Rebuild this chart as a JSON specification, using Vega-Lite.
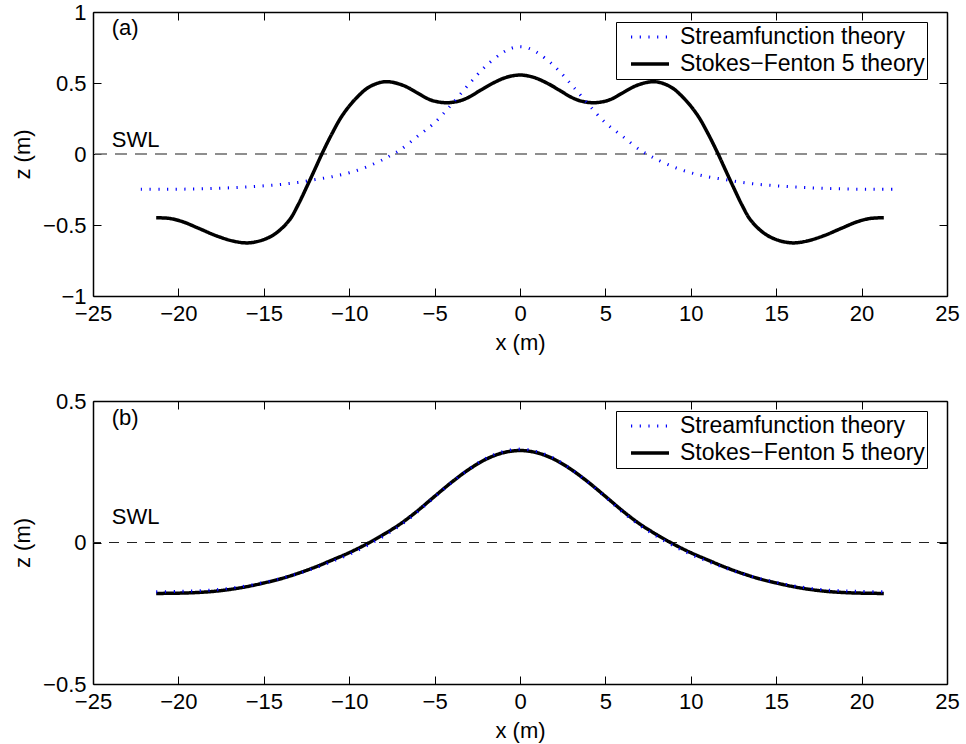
{
  "$schema": "https://vega.github.io/schema/vega-lite/v6.json",
  "padding": {"left": 11, "top": 1, "right": 5, "bottom": 5},
  "config": {
    "font": "Liberation Sans",
    "view": {"stroke": null},
    "axis": {"domainColor": "black", "domainWidth": 1.5, "tickColor": "black", "tickWidth": 1, "tickSize": -8, "labelPadding": 15, "labelFontSize": 22, "labelColor": "black", "labelFlush": false, "labelOverlap": false, "titleFontSize": 22, "titleFontWeight": "normal", "titleColor": "black", "grid": false},
    "axisX": {"titlePadding": 8},
    "axisY": {"titlePadding": 8},
    "legend": {"orient": "none", "legendX": 523, "legendY": 10, "strokeColor": "black", "fillColor": "white", "padding": 2, "symbolType": "stroke", "symbolSize": 1444, "symbolOffset": 11, "clipHeight": 26, "labelFontSize": 23, "labelLimit": 0, "labelOffset": 9, "rowPadding": 1, "labelColor": "black", "cornerRadius": 0, "strokeWidth": 1}
  },
  "datasets": {
    "one": [{}],
    "a_sf": [
      {"x": -21.3, "z": -0.449}, {"x": -20.5, "z": -0.454}, {"x": -19.75, "z": -0.477}, {"x": -18.8, "z": -0.524}, {"x": -17.8, "z": -0.575}, {"x": -16.8, "z": -0.613}, {"x": -15.95, "z": -0.626}, {"x": -15.1, "z": -0.607}, {"x": -14.3, "z": -0.559}, {"x": -13.5, "z": -0.465}, {"x": -13.0, "z": -0.36}, {"x": -12.5, "z": -0.235}, {"x": -12.0, "z": -0.105}, {"x": -11.6, "z": 0.0}, {"x": -11.0, "z": 0.145}, {"x": -10.4, "z": 0.272}, {"x": -9.6, "z": 0.392}, {"x": -8.8, "z": 0.474}, {"x": -7.9, "z": 0.509}, {"x": -6.9, "z": 0.486}, {"x": -6.0, "z": 0.43}, {"x": -5.5, "z": 0.395}, {"x": -5.0, "z": 0.372}, {"x": -4.3, "z": 0.361}, {"x": -3.6, "z": 0.372}, {"x": -3.0, "z": 0.4}, {"x": -2.3, "z": 0.45}, {"x": -1.6, "z": 0.498}, {"x": -0.8, "z": 0.54}, {"x": 0, "z": 0.556},
      {"x": 0.8, "z": 0.54}, {"x": 1.6, "z": 0.498}, {"x": 2.3, "z": 0.45}, {"x": 3.0, "z": 0.4}, {"x": 3.6, "z": 0.372}, {"x": 4.3, "z": 0.361}, {"x": 5.0, "z": 0.372}, {"x": 5.5, "z": 0.395}, {"x": 6.0, "z": 0.43}, {"x": 6.9, "z": 0.486}, {"x": 7.9, "z": 0.509}, {"x": 8.8, "z": 0.474}, {"x": 9.6, "z": 0.392}, {"x": 10.4, "z": 0.272}, {"x": 11.0, "z": 0.145}, {"x": 11.6, "z": 0.0}, {"x": 12.0, "z": -0.105}, {"x": 12.5, "z": -0.235}, {"x": 13.0, "z": -0.36}, {"x": 13.5, "z": -0.465}, {"x": 14.3, "z": -0.559}, {"x": 15.1, "z": -0.607}, {"x": 15.95, "z": -0.626}, {"x": 16.8, "z": -0.613}, {"x": 17.8, "z": -0.575}, {"x": 18.8, "z": -0.524}, {"x": 19.75, "z": -0.477}, {"x": 20.5, "z": -0.454}, {"x": 21.3, "z": -0.449}
    ],
    "a_st": [
      {"x": -22.2, "z": -0.249}, {"x": -21, "z": -0.249}, {"x": -20, "z": -0.248}, {"x": -19, "z": -0.246}, {"x": -18, "z": -0.243}, {"x": -17, "z": -0.238}, {"x": -16, "z": -0.232}, {"x": -15, "z": -0.224}, {"x": -14, "z": -0.214}, {"x": -13, "z": -0.2}, {"x": -12, "z": -0.18}, {"x": -11, "z": -0.16}, {"x": -10, "z": -0.132}, {"x": -9, "z": -0.092}, {"x": -8, "z": -0.038}, {"x": -7.5, "z": -0.005}, {"x": -7, "z": 0.03}, {"x": -6, "z": 0.125}, {"x": -5, "z": 0.22}, {"x": -4, "z": 0.35}, {"x": -3, "z": 0.49}, {"x": -2, "z": 0.62}, {"x": -1, "z": 0.715}, {"x": -0.5, "z": 0.745}, {"x": 0, "z": 0.756},
      {"x": 0.5, "z": 0.745}, {"x": 1, "z": 0.715}, {"x": 2, "z": 0.62}, {"x": 3, "z": 0.49}, {"x": 4, "z": 0.35}, {"x": 5, "z": 0.22}, {"x": 6, "z": 0.125}, {"x": 7, "z": 0.03}, {"x": 7.5, "z": -0.005}, {"x": 8, "z": -0.038}, {"x": 9, "z": -0.092}, {"x": 10, "z": -0.132}, {"x": 11, "z": -0.16}, {"x": 12, "z": -0.18}, {"x": 13, "z": -0.2}, {"x": 14, "z": -0.214}, {"x": 15, "z": -0.224}, {"x": 16, "z": -0.232}, {"x": 17, "z": -0.238}, {"x": 18, "z": -0.243}, {"x": 19, "z": -0.246}, {"x": 20, "z": -0.248}, {"x": 21, "z": -0.249}, {"x": 22.2, "z": -0.249}
    ],
    "b_sf": [
      {"x": -21.3, "z": -0.18}, {"x": -20, "z": -0.179}, {"x": -19, "z": -0.177}, {"x": -18, "z": -0.173}, {"x": -17, "z": -0.166}, {"x": -16, "z": -0.156}, {"x": -15, "z": -0.143}, {"x": -14, "z": -0.128}, {"x": -13, "z": -0.109}, {"x": -12, "z": -0.087}, {"x": -11, "z": -0.062}, {"x": -10, "z": -0.036}, {"x": -9, "z": -0.006}, {"x": -8, "z": 0.028}, {"x": -7, "z": 0.066}, {"x": -6, "z": 0.112}, {"x": -5, "z": 0.163}, {"x": -4, "z": 0.213}, {"x": -3, "z": 0.258}, {"x": -2, "z": 0.294}, {"x": -1, "z": 0.317}, {"x": 0, "z": 0.325},
      {"x": 1, "z": 0.317}, {"x": 2, "z": 0.294}, {"x": 3, "z": 0.258}, {"x": 4, "z": 0.213}, {"x": 5, "z": 0.163}, {"x": 6, "z": 0.112}, {"x": 7, "z": 0.066}, {"x": 8, "z": 0.028}, {"x": 9, "z": -0.006}, {"x": 10, "z": -0.036}, {"x": 11, "z": -0.062}, {"x": 12, "z": -0.087}, {"x": 13, "z": -0.109}, {"x": 14, "z": -0.128}, {"x": 15, "z": -0.143}, {"x": 16, "z": -0.156}, {"x": 17, "z": -0.166}, {"x": 18, "z": -0.173}, {"x": 19, "z": -0.177}, {"x": 20, "z": -0.179}, {"x": 21.3, "z": -0.18}
    ],
    "b_st": [
      {"x": -21.3, "z": -0.174}, {"x": -20, "z": -0.173}, {"x": -19, "z": -0.171}, {"x": -18, "z": -0.168}, {"x": -17, "z": -0.162}, {"x": -16, "z": -0.153}, {"x": -15, "z": -0.141}, {"x": -14, "z": -0.127}, {"x": -13, "z": -0.11}, {"x": -12, "z": -0.09}, {"x": -11, "z": -0.067}, {"x": -10, "z": -0.042}, {"x": -9, "z": -0.012}, {"x": -8, "z": 0.022}, {"x": -7, "z": 0.061}, {"x": -6, "z": 0.108}, {"x": -5, "z": 0.161}, {"x": -4, "z": 0.212}, {"x": -3, "z": 0.259}, {"x": -2, "z": 0.297}, {"x": -1, "z": 0.321}, {"x": 0, "z": 0.33},
      {"x": 1, "z": 0.321}, {"x": 2, "z": 0.297}, {"x": 3, "z": 0.259}, {"x": 4, "z": 0.212}, {"x": 5, "z": 0.161}, {"x": 6, "z": 0.108}, {"x": 7, "z": 0.061}, {"x": 8, "z": 0.022}, {"x": 9, "z": -0.012}, {"x": 10, "z": -0.042}, {"x": 11, "z": -0.067}, {"x": 12, "z": -0.09}, {"x": 13, "z": -0.11}, {"x": 14, "z": -0.127}, {"x": 15, "z": -0.141}, {"x": 16, "z": -0.153}, {"x": 17, "z": -0.162}, {"x": 18, "z": -0.168}, {"x": 19, "z": -0.171}, {"x": 20, "z": -0.173}, {"x": 21.3, "z": -0.174}
    ]
  },
  "spacing": 37,
  "resolve": {"scale": {"color": "independent", "strokeDash": "independent", "strokeWidth": "independent"}},
  "vconcat": [
    {
      "width": 854, "height": 284,
      "resolve": {"axis": {"x": "independent", "y": "independent"}},
      "layer": [
        {
          "data": {"name": "one"},
          "mark": {"type": "rule", "strokeDash": [12, 8], "color": "#6a6a6a", "strokeWidth": 1.5},
          "encoding": {"y": {"datum": 0, "type": "quantitative", "scale": {"domain": [-1, 1], "nice": false}, "axis": null}}
        },
        {
          "data": {"name": "a_sf"},
          "mark": {"type": "line", "interpolate": "catmull-rom"},
          "encoding": {
            "x": {"field": "x", "type": "quantitative", "scale": {"domain": [-25, 25], "nice": false}, "axis": {"orient": "bottom", "values": [-25, -20, -15, -10, -5, 0, 5, 10, 15, 20, 25], "title": "x (m)", "format": "~g"}},
            "y": {"field": "z", "type": "quantitative", "scale": {"domain": [-1, 1], "nice": false}, "axis": {"orient": "left", "values": [-1, -0.5, 0, 0.5, 1], "title": "z (m)", "format": "~g"}},
            "color": {"datum": "Stokes−Fenton 5 theory", "type": "nominal", "scale": {"domain": ["Streamfunction theory", "Stokes−Fenton 5 theory"], "range": ["#0000ff", "#000000"]}, "legend": {"title": null}},
            "strokeDash": {"datum": "Stokes−Fenton 5 theory", "type": "nominal", "scale": {"domain": ["Streamfunction theory", "Stokes−Fenton 5 theory"], "range": [[1.2, 7.5], [1, 0]]}, "legend": {"title": null}},
            "strokeWidth": {"datum": "Stokes−Fenton 5 theory", "type": "nominal", "scale": {"domain": ["Streamfunction theory", "Stokes−Fenton 5 theory"], "range": [3, 3.5]}, "legend": {"title": null}}
          }
        },
        {
          "data": {"name": "a_st"},
          "mark": {"type": "line", "interpolate": "catmull-rom"},
          "encoding": {
            "x": {"field": "x", "type": "quantitative", "scale": {"domain": [-25, 25], "nice": false}, "axis": {"orient": "top", "values": [-25, -20, -15, -10, -5, 0, 5, 10, 15, 20, 25], "labels": false, "title": null}},
            "y": {"field": "z", "type": "quantitative", "scale": {"domain": [-1, 1], "nice": false}, "axis": {"orient": "right", "values": [-1, -0.5, 0, 0.5, 1], "labels": false, "title": null}},
            "color": {"datum": "Streamfunction theory", "type": "nominal", "scale": {"domain": ["Streamfunction theory", "Stokes−Fenton 5 theory"], "range": ["#0000ff", "#000000"]}, "legend": {"title": null}},
            "strokeDash": {"datum": "Streamfunction theory", "type": "nominal", "scale": {"domain": ["Streamfunction theory", "Stokes−Fenton 5 theory"], "range": [[1.2, 7.5], [1, 0]]}, "legend": {"title": null}},
            "strokeWidth": {"datum": "Streamfunction theory", "type": "nominal", "scale": {"domain": ["Streamfunction theory", "Stokes−Fenton 5 theory"], "range": [3, 3.5]}, "legend": {"title": null}}
          }
        },
        {
          "data": {"name": "one"},
          "mark": {"type": "text", "align": "left", "baseline": "middle", "fontSize": 22, "color": "black"},
          "encoding": {"x": {"datum": -23.9, "type": "quantitative", "scale": {"domain": [-25, 25], "nice": false}, "axis": null}, "y": {"datum": 0.887, "type": "quantitative", "scale": {"domain": [-1, 1], "nice": false}, "axis": null}, "text": {"value": "(a)"}}
        },
        {
          "data": {"name": "one"},
          "mark": {"type": "text", "align": "left", "baseline": "middle", "fontSize": 22, "color": "black"},
          "encoding": {"x": {"datum": -23.9, "type": "quantitative", "scale": {"domain": [-25, 25], "nice": false}, "axis": null}, "y": {"datum": 0.1, "type": "quantitative", "scale": {"domain": [-1, 1], "nice": false}, "axis": null}, "text": {"value": "SWL"}}
        }
      ]
    },
    {
      "width": 854, "height": 283,
      "resolve": {"axis": {"x": "independent", "y": "independent"}},
      "layer": [
        {
          "data": {"name": "one"},
          "mark": {"type": "rule", "strokeDash": [10, 8], "color": "#222222", "strokeWidth": 1},
          "encoding": {"y": {"datum": 0, "type": "quantitative", "scale": {"domain": [-0.5, 0.5], "nice": false}, "axis": null}}
        },
        {
          "data": {"name": "b_sf"},
          "mark": {"type": "line", "interpolate": "catmull-rom"},
          "encoding": {
            "x": {"field": "x", "type": "quantitative", "scale": {"domain": [-25, 25], "nice": false}, "axis": {"orient": "bottom", "values": [-25, -20, -15, -10, -5, 0, 5, 10, 15, 20, 25], "title": "x (m)", "format": "~g"}},
            "y": {"field": "z", "type": "quantitative", "scale": {"domain": [-0.5, 0.5], "nice": false}, "axis": {"orient": "left", "values": [-0.5, 0, 0.5], "title": "z (m)", "format": "~g"}},
            "color": {"datum": "Stokes−Fenton 5 theory", "type": "nominal", "scale": {"domain": ["Streamfunction theory", "Stokes−Fenton 5 theory"], "range": ["#0000ff", "#000000"]}, "legend": {"title": null}},
            "strokeDash": {"datum": "Stokes−Fenton 5 theory", "type": "nominal", "scale": {"domain": ["Streamfunction theory", "Stokes−Fenton 5 theory"], "range": [[1.2, 7.5], [1, 0]]}, "legend": {"title": null}},
            "strokeWidth": {"datum": "Stokes−Fenton 5 theory", "type": "nominal", "scale": {"domain": ["Streamfunction theory", "Stokes−Fenton 5 theory"], "range": [3, 3.5]}, "legend": {"title": null}}
          }
        },
        {
          "data": {"name": "b_st"},
          "mark": {"type": "line", "interpolate": "catmull-rom"},
          "encoding": {
            "x": {"field": "x", "type": "quantitative", "scale": {"domain": [-25, 25], "nice": false}, "axis": {"orient": "top", "values": [-25, -20, -15, -10, -5, 0, 5, 10, 15, 20, 25], "labels": false, "title": null}},
            "y": {"field": "z", "type": "quantitative", "scale": {"domain": [-0.5, 0.5], "nice": false}, "axis": {"orient": "right", "values": [-0.5, 0, 0.5], "labels": false, "title": null}},
            "color": {"datum": "Streamfunction theory", "type": "nominal", "scale": {"domain": ["Streamfunction theory", "Stokes−Fenton 5 theory"], "range": ["#0000ff", "#000000"]}, "legend": {"title": null}},
            "strokeDash": {"datum": "Streamfunction theory", "type": "nominal", "scale": {"domain": ["Streamfunction theory", "Stokes−Fenton 5 theory"], "range": [[1.2, 7.5], [1, 0]]}, "legend": {"title": null}},
            "strokeWidth": {"datum": "Streamfunction theory", "type": "nominal", "scale": {"domain": ["Streamfunction theory", "Stokes−Fenton 5 theory"], "range": [3, 3.5]}, "legend": {"title": null}}
          }
        },
        {
          "data": {"name": "one"},
          "mark": {"type": "text", "align": "left", "baseline": "middle", "fontSize": 22, "color": "black"},
          "encoding": {"x": {"datum": -23.9, "type": "quantitative", "scale": {"domain": [-25, 25], "nice": false}, "axis": null}, "y": {"datum": 0.439, "type": "quantitative", "scale": {"domain": [-0.5, 0.5], "nice": false}, "axis": null}, "text": {"value": "(b)"}}
        },
        {
          "data": {"name": "one"},
          "mark": {"type": "text", "align": "left", "baseline": "middle", "fontSize": 22, "color": "black"},
          "encoding": {"x": {"datum": -23.9, "type": "quantitative", "scale": {"domain": [-25, 25], "nice": false}, "axis": null}, "y": {"datum": 0.09, "type": "quantitative", "scale": {"domain": [-0.5, 0.5], "nice": false}, "axis": null}, "text": {"value": "SWL"}}
        }
      ]
    }
  ]
}
